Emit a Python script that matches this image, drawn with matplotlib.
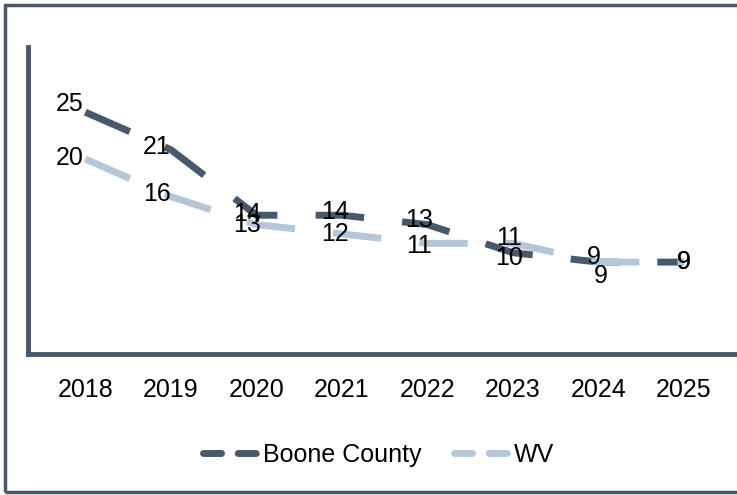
import matplotlib
matplotlib.use("Agg")
import matplotlib.pyplot as plt
from matplotlib.patches import Rectangle
from matplotlib.lines import Line2D

years = ["2018", "2019", "2020", "2021", "2022", "2023", "2024", "2025"]
boone = [25, 21, 14, 14, 13, 10, 9, 9]
wv = [20, 16, 13, 12, 11, 11, 9, 9]

# label offsets in points (dx, dy)
boone_off = [(-11, 6), (-10, 2), (-7, 1), (-5, 2), (-6, 3), (-3, -4), (2, -10), (0, 0)]
wv_off = [(-11, 1), (-10, 2), (-7, 0), (-5, 0), (-6, -2), (-3, 4), (-3, 4), (0, 0)]

dark = "#475A6B"
light = "#B4C7D9"

plt.rcParams["font.family"] = ["Liberation Sans", "DejaVu Sans"]

fig = plt.figure(figsize=(7.37, 4.95), dpi=100)
ax = fig.add_axes([0.038, 0.285, 0.962, 0.62])

x = list(range(len(years)))
ax.plot(x, boone, color=dark, lw=5, dashes=(7, 5.5), dash_capstyle="butt")
ax.plot(x, wv, color=light, lw=5, dashes=(7, 5.5), dash_capstyle="butt")

for i in x:
    ax.annotate(str(boone[i]), (i, boone[i]), xytext=boone_off[i],
                textcoords="offset points", ha="center", va="center",
                fontsize=18, color="black")
    ax.annotate(str(wv[i]), (i, wv[i]), xytext=wv_off[i],
                textcoords="offset points", ha="center", va="center",
                fontsize=18, color="black")

ax.set_xlim(-0.67, 7.62)
ax.set_ylim(-0.8, 31.95)
ax.set_xticks(x)
ax.set_xticklabels(years, fontsize=18)
ax.set_yticks([])
ax.tick_params(axis="x", length=0, pad=17)
for s in ["top", "right"]:
    ax.spines[s].set_visible(False)
for s in ["left", "bottom"]:
    ax.spines[s].set_color(dark)
    ax.spines[s].set_linewidth(3.5)

handles = [
    Line2D([], [], color=dark, lw=5, dashes=(2.6, 2.4), dash_capstyle="round"),
    Line2D([], [], color=light, lw=5, dashes=(2.6, 2.4), dash_capstyle="round"),
]
ax.legend(handles, ["Boone County", "WV"], loc="center",
          bbox_to_anchor=(0.494, -0.33), ncol=2, frameon=False,
          fontsize=18, handlelength=2.3, handletextpad=0.1, columnspacing=1.3)

fig.patches.append(Rectangle((0.007, 0.006), 1.2, 0.984, transform=fig.transFigure,
                             fill=False, edgecolor=dark, lw=2.5))

fig.savefig("out.png", dpi=100)
